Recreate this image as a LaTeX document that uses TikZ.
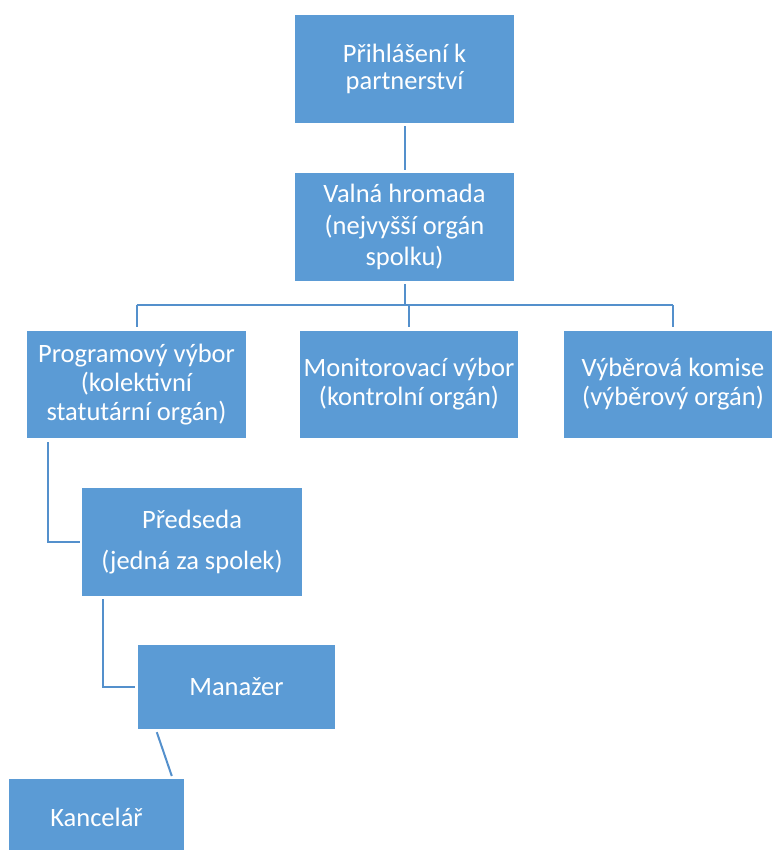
\documentclass[tikz,border=0pt]{standalone}
\usepackage{fontspec}
\setmainfont{Carlito}
\usetikzlibrary{calc}
\definecolor{boxblue}{HTML}{5B9BD5}
\definecolor{lineblue}{HTML}{5490CC}
\begin{document}
\begin{tikzpicture}[x=1pt,y=-1pt,
  box/.style={fill=boxblue, draw=none, text=white, align=center, inner sep=0pt,
    minimum width=219pt, minimum height=108pt},
  conn/.style={draw=lineblue, line width=2pt}]
\useasboundingbox (0,0) rectangle (771,850);
\node[box, font=\fontsize{26.5}{27}\selectfont] (b1) at (404.5,69) {Přihlášení k\\partnerství};
\node[box, font=\fontsize{26.5}{31.5}\selectfont] (b2) at (404.5,227) {Valná hromada\\(nejvyšší orgán\\spolku)};
\node[box, font=\fontsize{26.5}{29}\selectfont, minimum height=107pt] (b3) at (136.5,384.5) {Programový výbor\\(kolektivní\\statutární orgán)};
\node[box, font=\fontsize{26.5}{29}\selectfont, minimum width=218pt, minimum height=107pt] (b4) at (409,384.5) {Monitorovací výbor\\(kontrolní orgán)};
\node[box, font=\fontsize{26.5}{29}\selectfont, minimum width=218pt, minimum height=107pt] (b5) at (673,384.5) {Výběrová komise\\(výběrový orgán)};
\node[box, font=\fontsize{26.5}{41}\selectfont, minimum width=220pt] (b6) at (192,542) {Předseda\\(jedná za spolek)};
\node[box, font=\fontsize{26.5}{29}\selectfont, minimum width=197pt, minimum height=84pt] (b7) at (236.5,687) {Manažer};
\node[box, font=\fontsize{26.5}{29}\selectfont, minimum width=175pt, minimum height=71pt, anchor=north] (b8) at (96.5,779) {};
\node[text=white, font=\fontsize{26.5}{29}\selectfont, inner sep=0pt] (t8) at (96.5,817) {Kancelář};
% connectors
\draw[conn] ($(b1.south)+(0,3)$) -- ($(b2.north)+(0,-3)$);
\coordinate (bus) at ($(b2.south)+(0,24)$);
\draw[conn] ($(b2.south)+(0,3)$) -- (bus);
\draw[conn] (bus -| b3.north) -- (bus -| b5.north);
\draw[conn] (bus -| b3.north) -- ($(b3.north)+(0,-4)$);
\draw[conn] (bus -| b4.north) -- ($(b4.north)+(0,-4)$);
\draw[conn] (bus -| b5.north) -- ($(b5.north)+(0,-4)$);
\draw[conn] ($(b3.south west)+(21,4)$) |- ($(b6.west)+(-2,0)$);
\draw[conn] ($(b6.south west)+(21,3)$) |- ($(b7.west)+(-3,0)$);
\draw[conn] ($(b7.south west)+(19,3)$) -- ($(b8.north west)+(163,-3)$);
\end{tikzpicture}
\end{document}
